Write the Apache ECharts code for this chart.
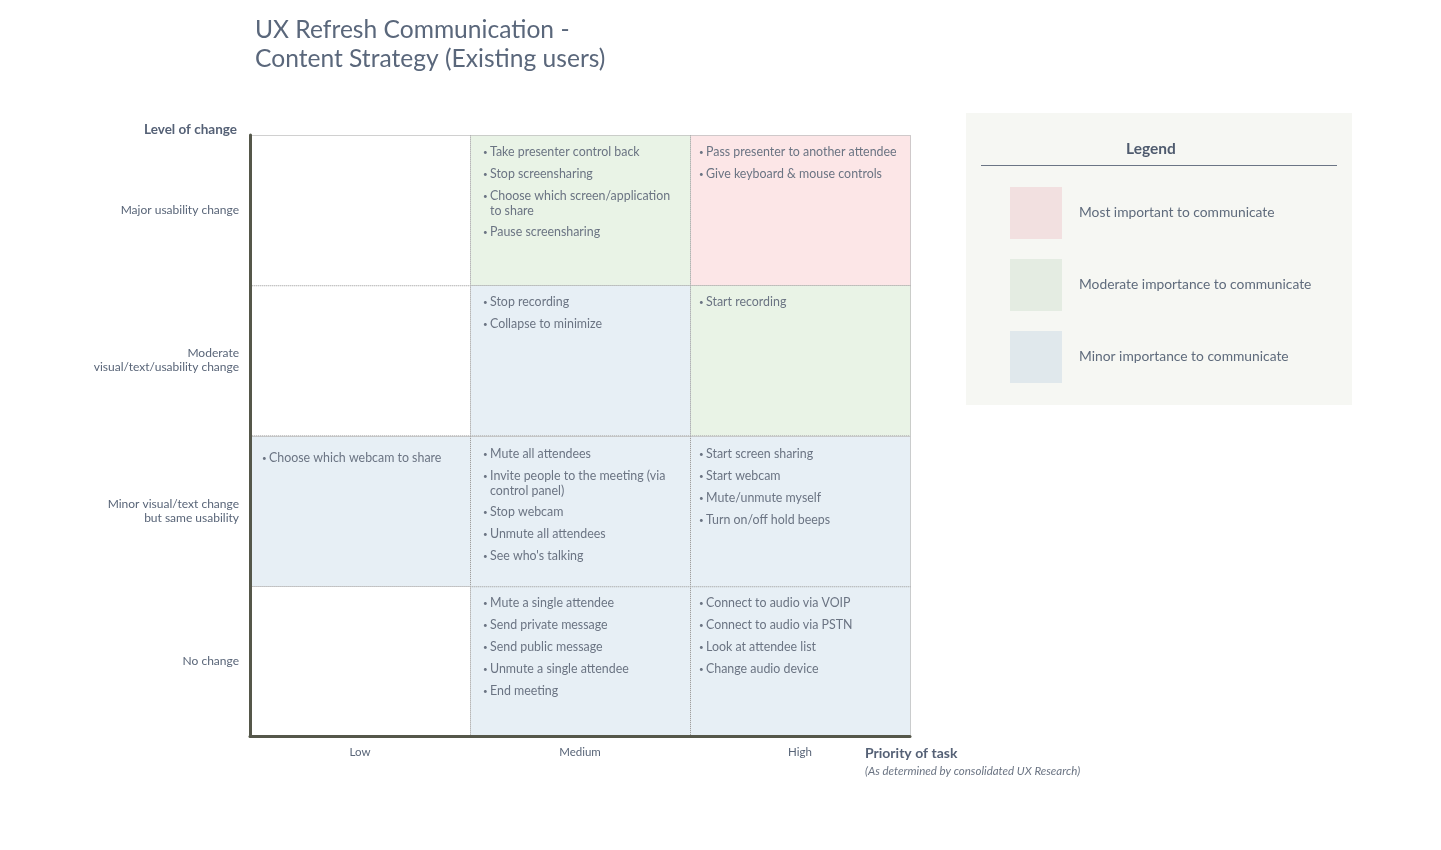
<!DOCTYPE html>
<html><head><meta charset="utf-8">
<script src="https://cdn.jsdelivr.net/npm/echarts@6/dist/echarts.min.js"></script>
<style>html,body{margin:0;padding:0;background:#fff}#c{width:1441px;height:850px}</style>
</head><body><div id="c"></div>
<script>
// ---- data ----
const priorities = ['Low', 'Medium', 'High'];
const levels = ['No change', 'Minor visual/text change\nbut same usability', 'Moderate\nvisual/text/usability change', 'Major usability change'];
const importance = ['Most important to communicate', 'Moderate importance to communicate', 'Minor importance to communicate'];

// tasks per level row, one entry per priority (Low, Medium, High)
const majorTasks = [[], ['Take presenter control back', 'Stop screensharing', 'Choose which screen/application\nto share', 'Pause screensharing'], ['Pass presenter to another attendee', 'Give keyboard & mouse controls']];
const moderateTasks = [[], ['Stop recording', 'Collapse to minimize'], ['Start recording']];
const minorTasks = [['Choose which webcam to share'], ['Mute all attendees', 'Invite people to the meeting (via\ncontrol panel)', 'Stop webcam', 'Unmute all attendees', "See who's talking"], ['Start screen sharing', 'Start webcam', 'Mute/unmute myself', 'Turn on/off hold beeps']];
const noChangeTasks = [[], ['Mute a single attendee', 'Send private message', 'Send public message', 'Unmute a single attendee', 'End meeting'], ['Connect to audio via VOIP', 'Connect to audio via PSTN', 'Look at attendee list', 'Change audio device']];

// importance index per cell (0 most, 1 moderate, 2 minor, -1 none)
const majorImportance = [-1, 1, 0];
const moderateImportance = [-1, 2, 1];
const minorImportance = [2, 2, 2];
const noChangeImportance = [-1, 2, 2];

// ---- styles ----
const cellColors = ['#fce6e7', '#e9f3e6', '#e7eff5'];
const legendColors = ['#f2e0e0', '#e4ece2', '#e0e8ec'];
const textColor = '#6b7483';
const labelColor = '#596578';
const FONT = 'Lato, "Open Sans", sans-serif';

const rowsTasks = [noChangeTasks, minorTasks, moderateTasks, majorTasks];
const rowsImp = [noChangeImportance, minorImportance, moderateImportance, majorImportance];
const cellTasks = [];
const seriesData = [[], [], [], []]; // per importance, last = none
rowsTasks.forEach((row, yi) => {
  row.forEach((tasks, xi) => {
    const idx = cellTasks.length;
    cellTasks.push(tasks);
    const imp = rowsImp[yi][xi];
    seriesData[imp < 0 ? 3 : imp].push([xi, yi, idx]);
  });
});

const bulletPad = [12, 13, 9];
const textPad = [19, 20, 16];
const rowTop = [17, 18, 17, 17];

function makeRender(fill) {
  return function (params, api) {
    const xi = api.value(0), yi = api.value(1), idx = api.value(2);
    const c = api.coord([xi, yi]);
    const s = api.size([1, 1]);
    const x = Math.round(c[0] - s[0] / 2), y = Math.round(c[1] - s[1] / 2);
    const children = [{
      type: 'rect',
      shape: { x: x + 0.5, y: y + 0.5, width: s[0], height: s[1] },
      style: { fill: fill, stroke: '#a0a0a0', lineWidth: 1, lineDash: [1, 1] }
    }];
    let ty = y + rowTop[yi] + (xi === 0 && yi === 1 ? 4 : 0);
    cellTasks[idx].forEach(t => {
      const lines = t.split('\n');
      children.push({ type: 'text', style: { x: x + bulletPad[xi], y: ty, text: '•', fontSize: 8, fill: textColor, fontFamily: FONT, verticalAlign: 'middle' } });
      lines.forEach((ln, k) => {
        children.push({ type: 'text', style: { x: x + textPad[xi], y: ty + k * 15, text: ln, fontSize: 12.4, fill: textColor, fontFamily: FONT, verticalAlign: 'middle' } });
      });
      ty += 22 + (lines.length - 1) * 14;
    });
    return { type: 'group', children };
  };
}

const series = importance.map((name, i) => ({
  name, type: 'custom', renderItem: makeRender(cellColors[i]),
  itemStyle: { color: legendColors[i] }, data: seriesData[i], z: 2
}));
series.push({ name: 'none', type: 'custom', renderItem: makeRender('#ffffff'), data: seriesData[3], z: 2 });

const chart = echarts.init(document.getElementById('c'), null, { renderer: 'canvas' });
chart.setOption({
  animation: false,
  textStyle: { fontFamily: FONT },
  title: {
    text: 'UX Refresh Communication -\nContent Strategy (Existing users)',
    left: 250, top: 11,
    textStyle: { fontSize: 24.6, fontWeight: 'normal', color: '#5a677b', lineHeight: 29, fontFamily: FONT }
  },
  grid: { left: 250, top: 135, width: 660, height: 601, containLabel: false },
  xAxis: {
    type: 'category', data: priorities, z: 10,
    axisLine: { lineStyle: { color: '#55574a', width: 3 } },
    axisTick: { show: false },
    axisLabel: { fontSize: 11.5, color: labelColor, margin: 10, fontFamily: FONT },
    splitLine: { show: false }
  },
  yAxis: {
    type: 'category', data: levels, z: 10,
    axisLine: { lineStyle: { color: '#55574a', width: 3 } },
    axisTick: { show: false },
    axisLabel: { fontSize: 12, color: labelColor, margin: 11, lineHeight: 14, fontFamily: FONT, align: 'right' },
    name: 'Level of change', nameLocation: 'end', nameGap: -2,
    nameTextStyle: { fontSize: 13.5, fontWeight: 'bold', color: '#556176', align: 'right', padding: [0, 13, 0, 0], fontFamily: FONT }
  },
  legend: {
    orient: 'vertical', left: 1010, top: 187, padding: 0, itemWidth: 52, itemHeight: 52, itemGap: 20,
    icon: 'rect', selectedMode: false, z: 5,
    textStyle: { fontSize: 13.8, color: '#5f6b7c', padding: [0, 0, 0, 12], fontFamily: FONT },
    data: importance.map((n, i) => ({ name: n, itemStyle: { color: legendColors[i] } }))
  },
  graphic: [
    { type: 'rect', z: 0, shape: { x: 966, y: 113, width: 386, height: 292 }, style: { fill: '#f6f7f3' } },
    { type: 'text', z: 1, style: { x: 1151, y: 149, text: 'Legend', fontSize: 15.5, fontWeight: 'bold', fill: '#4f5b6e', align: 'center', verticalAlign: 'middle', fontFamily: FONT } },
    { type: 'line', z: 1, shape: { x1: 981, y1: 165.5, x2: 1337, y2: 165.5 }, style: { stroke: '#6b7585', lineWidth: 1 } },
    { type: 'text', z: 1, style: { x: 865, y: 753, text: 'Priority of task', fontSize: 14, fontWeight: 'bold', fill: '#556176', verticalAlign: 'middle', fontFamily: FONT } },
    { type: 'text', z: 1, style: { x: 865, y: 771, text: '(As determined by consolidated UX Research)', fontSize: 11.5, fontStyle: 'italic', fill: '#6b7483', verticalAlign: 'middle', fontFamily: FONT } }
  ],
  series
});
</script></body></html>
